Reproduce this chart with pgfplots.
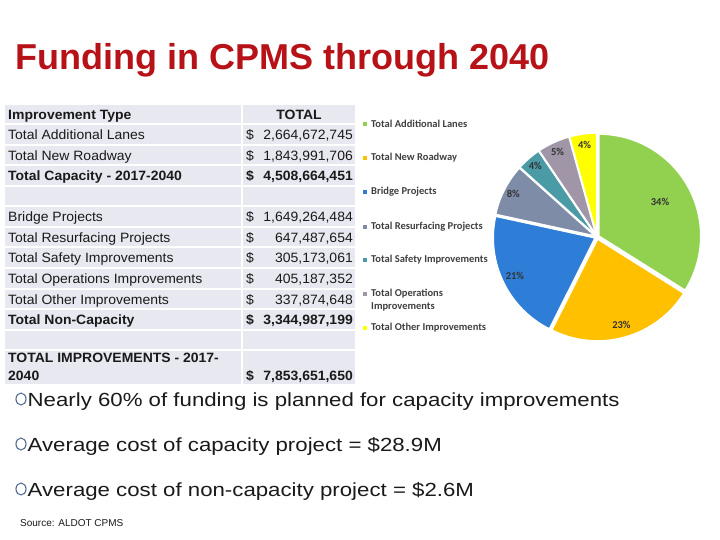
\documentclass[border=0pt]{standalone}
\usepackage{pgfplots}
\usepackage{pgfplotstable}
\pgfplotsset{compat=1.18}
\usepackage{fontspec}
\setmainfont{Liberation Sans}
\newfontfamily\carlito{Carlito}
\newfontfamily\tablefont[FakeStretch=1.035]{Liberation Sans}
\newfontfamily\widefont[FakeStretch=1.17]{Liberation Sans}

\definecolor{titlered}{RGB}{183,18,23}
\definecolor{cellgray}{HTML}{E8E9F0}
\definecolor{bodytext}{HTML}{1A1A1A}
\definecolor{legtext}{HTML}{404040}
\definecolor{bulletc}{HTML}{4F6A93}
\definecolor{cLanes}{HTML}{92D050}
\definecolor{cRoad}{HTML}{FFC000}
\definecolor{cBridge}{HTML}{2E7DD7}
\definecolor{cResurf}{HTML}{7F8CA8}
\definecolor{cSafety}{HTML}{4B9BA7}
\definecolor{cOps}{HTML}{A096A8}
\definecolor{cOther}{HTML}{FFFF00}

% funding in millions of dollars, 2017-2040
\pgfplotstableread{
idx value
0 2664.672745
1 1843.991706
2 1649.264484
3 647.487654
4 305.173061
5 405.187352
6 337.874648
}\piedata

\newcommand{\tfont}{\tablefont\fontsize{13.5bp}{16bp}\selectfont}
\newcommand{\lfont}{\carlito\bfseries\fontsize{10.5bp}{12bp}\selectfont}

\begin{document}
\begin{tikzpicture}
\begin{scope}[x=1bp,y=-1bp]
  \fill[white] (0,0) rectangle (720,540);
  \useasboundingbox (0,0) rectangle (720,540);

  % title
  \node[anchor=base west, inner sep=0, text=titlered,
        font=\fontsize{36bp}{40bp}\selectfont\bfseries] at (15,70) {Funding in CPMS through 2040};

  % table cells
  \foreach \top/\h in {105/18.5,125.5/18.5,146/18.5,166.5/18.5,187/18.5,207.5/18.5,
                       228/18.5,248.5/18.5,269/18.5,289.5/18.5,310/18.5,330.5/18.5,351/33}{
    \fill[cellgray] (5,\top) rectangle (241,\top+\h);
    \fill[cellgray] (243,\top) rectangle (355,\top+\h);
  }
  \begin{scope}[every node/.style={inner sep=0, text=bodytext, font=\tfont}]
    \node[anchor=base west, font=\tfont\bfseries] at (8,119.5) {Improvement Type};
    \node[anchor=base, font=\tfont\bfseries] at (299,119.5) {TOTAL};
    \foreach \y/\lab/\val in {140/Total Additional Lanes/2{,}664{,}672{,}745,
                              160.5/Total New Roadway/1{,}843{,}991{,}706,
                              222/Bridge Projects/1{,}649{,}264{,}484,
                              242.5/Total Resurfacing Projects/647{,}487{,}654,
                              263/Total Safety Improvements/305{,}173{,}061,
                              283.5/Total Operations Improvements/405{,}187{,}352,
                              304/Total Other Improvements/337{,}874{,}648}{
      \node[anchor=base west] at (8,\y) {\lab};
      \node[anchor=base west] at (246,\y) {\$};
      \node[anchor=base east] at (353,\y) {\val};
    }
    \foreach \y/\lab/\val in {181/Total Capacity -  2017-2040/4{,}508{,}664{,}451,
                              324.5/Total Non-Capacity/3{,}344{,}987{,}199,
                              380/2040/7{,}853{,}651{,}650}{
      \node[anchor=base west, font=\tfont\bfseries] at (8,\y) {\lab};
      \node[anchor=base west, font=\tfont\bfseries] at (246,\y) {\$};
      \node[anchor=base east, font=\tfont\bfseries] at (353,\y) {\val};
    }
    \node[anchor=base west, font=\tfont\bfseries] at (8,362) {TOTAL IMPROVEMENTS - 2017-};
  \end{scope}

  % pie legend
  \foreach \y/\c/\lab in {124/cLanes/Total Additional Lanes,
                          158/cRoad/Total  New Roadway,
                          192/cBridge/Bridge Projects,
                          227/cResurf/Total Resurfacing Projects,
                          260/cSafety/Total Safety Improvements,
                          294/cOps/Total Operations,
                          328/cOther/Total Other Improvements}{
    \fill[\c] (363,\y-2) rectangle (367,\y+2);
    \node[anchor=west, inner sep=0, text=legtext, font=\lfont] at (371,\y) {\lab};
  }
  \node[anchor=west, inner sep=0, text=legtext, font=\lfont] at (371,307) {Improvements};

  % bullets
  \foreach \y/\txt in {406/Nearly 60\% of funding is planned for capacity improvements,
                       451/Average cost of capacity project = \$28.9M,
                       496/Average cost of non-capacity project = \$2.6M}{
    \draw[bulletc, line width=1.1bp] (21,\y-7) ellipse[x radius=5bp, y radius=6bp];
    \node[anchor=base west, inner sep=0, text=bodytext, font=\widefont\fontsize{19bp}{23bp}\selectfont] at (27.5,\y) {\txt};
  }
  \node[anchor=base west, inner sep=0, text=bodytext, font=\fontsize{10bp}{12bp}\selectfont] at (20,526) {Source: ALDOT CPMS};
\end{scope}

\begin{axis}[
  at={(597bp,-237bp)}, anchor=origin,
  x=1bp, y=1bp,
  xmin=-110, xmax=110, ymin=-110, ymax=110,
  hide axis, clip=false,
]
  \addplot[draw=none] coordinates {(0,0)};
  \pgfplotsextra{
    \gdef\pietotal{0}
    \foreach \i in {0,...,6}{
      \pgfplotstablegetelem{\i}{value}\of\piedata
      \pgfmathparse{\pietotal+\pgfplotsretval}
      \xdef\pietotal{\pgfmathresult}
    }
    \gdef\startang{90}
    \foreach \i/\c/\lr in {0/cLanes/72,1/cRoad/91,2/cBridge/91,3/cResurf/94,4/cSafety/94,5/cOps/94,6/cOther/93}{
      \pgfplotstablegetelem{\i}{value}\of\piedata
      \let\v\pgfplotsretval
      \pgfmathsetmacro{\frac}{\v/\pietotal}
      \pgfmathsetmacro{\sweep}{360*\frac}
      \pgfmathsetmacro{\endang}{\startang-\sweep}
      \pgfmathsetmacro{\midang}{\startang-\sweep/2}
      \pgfmathtruncatemacro{\pct}{round(100*\frac)}
      \fill[fill=\c, draw=white, line width=1.6bp, line join=round]
        ([shift={(\midang:2bp)}]axis cs:0,0) -- ++(\startang:102bp)
        arc[start angle=\startang, end angle=\endang, radius=102bp] -- cycle;
      \node[inner sep=0, text=black!80, font=\lfont]
        at ([shift={(\midang:\lr bp)}]axis cs:0,0) {\pct\%};
      \xdef\startang{\endang}
    }
  }
\end{axis}
\end{tikzpicture}
\end{document}
